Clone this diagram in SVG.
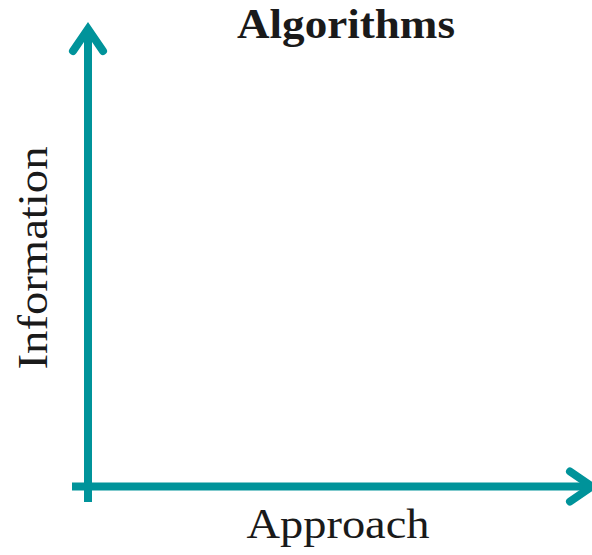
<svg xmlns="http://www.w3.org/2000/svg" width="592" height="555" viewBox="0 0 592 555">
<style>
.axis{fill:none;stroke:#00939a;stroke-width:8;stroke-linecap:butt}
.head{fill:none;stroke:#00939a;stroke-width:8;stroke-linecap:round;stroke-linejoin:miter;stroke-miterlimit:10}
.lbl{font-family:"Liberation Serif","Times New Roman",serif;font-size:42px;fill:#1a1a1a}
</style>
<rect width="592" height="555" fill="#ffffff"/>
<g id="connectors">
<path class="axis" d="M88,502 V32"/>
<path class="axis" d="M72,486.5 H588"/>
<path class="head" d="M73,51 L88,29 L103,51"/>
<path class="head" d="M570,471.5 L592,486.5 L570,501.5"/>
</g>
<g id="title"><text class="lbl" x="346" y="38" text-anchor="middle" font-weight="bold" textLength="218" lengthAdjust="spacingAndGlyphs">Algorithms</text></g>
<g id="x-label"><text class="lbl" x="338" y="538" text-anchor="middle" textLength="183" lengthAdjust="spacingAndGlyphs">Approach</text></g>
<g id="y-label"><text class="lbl" transform="translate(46.5,258) rotate(-90)" x="0" y="0" text-anchor="middle" textLength="223" lengthAdjust="spacingAndGlyphs">Information</text></g>
</svg>
